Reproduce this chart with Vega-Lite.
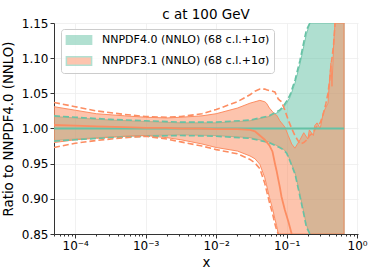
{
  "$schema": "https://vega.github.io/schema/vega-lite/v6.json",
  "width": 304,
  "height": 211,
  "autosize": {"type": "none"},
  "padding": {"left": 54, "top": 23, "right": 16, "bottom": 41},
  "background": "white",
  "title": {"text": "c at 100 GeV", "fontSize": 13.5, "font": "DejaVu Sans", "fontWeight": "normal", "anchor": "middle", "frame": "group", "offset": 2, "dy": 20, "baseline": "bottom", "color": "black"},
  "config": {
    "view": {"stroke": null},
    "font": "DejaVu Sans",
    "axis": {"labelFont": "DejaVu Sans", "titleFont": "DejaVu Sans", "labelFontSize": 12, "titleFontSize": 13.3, "titleFontWeight": "normal", "labelColor": "black", "titleColor": "black", "domainColor": "#333333", "domainWidth": 1, "tickColor": "#333333", "gridColor": "#eeeeee", "gridWidth": 0.8},
    "axisY": {"tickCount": 7, "format": ".2f", "tickSize": 4, "labelPadding": 2, "titlePadding": 6}
  },
  "datasets": {
    "g": [
      {"pdf": "NNPDF4.0 (NNLO) (68 c.l.+1σ)", "x": 5e-5, "lo": 0.983, "hi": 1.017, "slo": 0.982, "shi": 1.018, "c": 1},
      {"pdf": "NNPDF4.0 (NNLO) (68 c.l.+1σ)", "x": 1e-4, "lo": 0.985, "hi": 1.015, "slo": 0.984, "shi": 1.016, "c": 1},
      {"pdf": "NNPDF4.0 (NNLO) (68 c.l.+1σ)", "x": 3.16e-4, "lo": 0.988, "hi": 1.012, "slo": 0.987, "shi": 1.013, "c": 1},
      {"pdf": "NNPDF4.0 (NNLO) (68 c.l.+1σ)", "x": 1e-3, "lo": 0.990, "hi": 1.010, "slo": 0.989, "shi": 1.011, "c": 1},
      {"pdf": "NNPDF4.0 (NNLO) (68 c.l.+1σ)", "x": 3.16e-3, "lo": 0.991, "hi": 1.008, "slo": 0.990, "shi": 1.009, "c": 1},
      {"pdf": "NNPDF4.0 (NNLO) (68 c.l.+1σ)", "x": 0.01, "lo": 0.990, "hi": 1.008, "slo": 0.989, "shi": 1.009, "c": 1},
      {"pdf": "NNPDF4.0 (NNLO) (68 c.l.+1σ)", "x": 0.0302, "lo": 0.987, "hi": 1.011, "slo": 0.986, "shi": 1.012, "c": 1},
      {"pdf": "NNPDF4.0 (NNLO) (68 c.l.+1σ)", "x": 0.0562, "lo": 0.981, "hi": 1.017, "slo": 0.980, "shi": 1.018, "c": 1},
      {"pdf": "NNPDF4.0 (NNLO) (68 c.l.+1σ)", "x": 0.0794, "lo": 0.974, "hi": 1.024, "slo": 0.973, "shi": 1.026, "c": 1},
      {"pdf": "NNPDF4.0 (NNLO) (68 c.l.+1σ)", "x": 0.0891, "lo": 0.971, "hi": 1.029, "slo": 0.970, "shi": 1.031, "c": 1},
      {"pdf": "NNPDF4.0 (NNLO) (68 c.l.+1σ)", "x": 0.1, "lo": 0.966, "hi": 1.036, "slo": 0.965, "shi": 1.039, "c": 1},
      {"pdf": "NNPDF4.0 (NNLO) (68 c.l.+1σ)", "x": 0.1122, "lo": 0.955, "hi": 1.045, "slo": 0.953, "shi": 1.048, "c": 1},
      {"pdf": "NNPDF4.0 (NNLO) (68 c.l.+1σ)", "x": 0.1318, "lo": 0.937, "hi": 1.065, "slo": 0.935, "shi": 1.069, "c": 1},
      {"pdf": "NNPDF4.0 (NNLO) (68 c.l.+1σ)", "x": 0.1549, "lo": 0.906, "hi": 1.092, "slo": 0.903, "shi": 1.097, "c": 1},
      {"pdf": "NNPDF4.0 (NNLO) (68 c.l.+1σ)", "x": 0.1778, "lo": 0.878, "hi": 1.120, "slo": 0.875, "shi": 1.126, "c": 1},
      {"pdf": "NNPDF4.0 (NNLO) (68 c.l.+1σ)", "x": 0.1905, "lo": 0.863, "hi": 1.134, "slo": 0.860, "shi": 1.140, "c": 1},
      {"pdf": "NNPDF4.0 (NNLO) (68 c.l.+1σ)", "x": 0.2138, "lo": 0.848, "hi": 1.150, "slo": 0.847, "shi": 1.151, "c": 1},
      {"pdf": "NNPDF4.0 (NNLO) (68 c.l.+1σ)", "x": 0.2512, "lo": 0.80, "hi": 1.185, "slo": null, "shi": null, "c": 1},
      {"pdf": "NNPDF4.0 (NNLO) (68 c.l.+1σ)", "x": 0.653, "lo": 0.5, "hi": 1.6, "slo": null, "shi": null, "c": 1}
    ],
    "o": [
      {"pdf": "NNPDF3.1 (NNLO) (68 c.l.+1σ)", "x": 5e-5, "hi": 1.031, "lo": 0.980, "shi": 1.037, "slo": 0.973, "c": 1.005},
      {"pdf": "NNPDF3.1 (NNLO) (68 c.l.+1σ)", "x": 1e-4, "hi": 1.026, "lo": 0.984, "shi": 1.031, "slo": 0.979, "c": 1.004},
      {"pdf": "NNPDF3.1 (NNLO) (68 c.l.+1σ)", "x": 2e-4, "hi": 1.021, "lo": 0.986, "shi": 1.025, "slo": 0.983, "c": 1.003},
      {"pdf": "NNPDF3.1 (NNLO) (68 c.l.+1σ)", "x": 5e-4, "hi": 1.018, "lo": 0.989, "shi": 1.020, "slo": 0.987, "c": 1.002},
      {"pdf": "NNPDF3.1 (NNLO) (68 c.l.+1σ)", "x": 1e-3, "hi": 1.016, "lo": 0.990, "shi": 1.017, "slo": 0.989, "c": 1.001},
      {"pdf": "NNPDF3.1 (NNLO) (68 c.l.+1σ)", "x": 2e-3, "hi": 1.015, "lo": 0.987, "shi": 1.016, "slo": 0.985, "c": 1.001},
      {"pdf": "NNPDF3.1 (NNLO) (68 c.l.+1σ)", "x": 3.16e-3, "hi": 1.016, "lo": 0.984, "shi": 1.017, "slo": 0.981, "c": 1.000},
      {"pdf": "NNPDF3.1 (NNLO) (68 c.l.+1σ)", "x": 6.3e-3, "hi": 1.018, "lo": 0.978, "shi": 1.021, "slo": 0.975, "c": 1.000},
      {"pdf": "NNPDF3.1 (NNLO) (68 c.l.+1σ)", "x": 0.01, "hi": 1.021, "lo": 0.973, "shi": 1.027, "slo": 0.970, "c": 0.999},
      {"pdf": "NNPDF3.1 (NNLO) (68 c.l.+1σ)", "x": 0.02, "hi": 1.029, "lo": 0.968, "shi": 1.038, "slo": 0.964, "c": 0.999},
      {"pdf": "NNPDF3.1 (NNLO) (68 c.l.+1σ)", "x": 0.0302, "hi": 1.036, "lo": 0.961, "shi": 1.048, "slo": 0.956, "c": 0.998},
      {"pdf": "NNPDF3.1 (NNLO) (68 c.l.+1σ)", "x": 0.0355, "hi": 1.038, "lo": 0.957, "shi": 1.053, "slo": 0.951, "c": 0.996},
      {"pdf": "NNPDF3.1 (NNLO) (68 c.l.+1σ)", "x": 0.0417, "hi": 1.040, "lo": 0.949, "shi": 1.056, "slo": 0.943, "c": 0.990},
      {"pdf": "NNPDF3.1 (NNLO) (68 c.l.+1σ)", "x": 0.049, "hi": 1.038, "lo": 0.930, "shi": 1.056, "slo": 0.922, "c": 0.984},
      {"pdf": "NNPDF3.1 (NNLO) (68 c.l.+1σ)", "x": 0.0518, "hi": 1.036, "lo": 0.920, "shi": 1.055, "slo": 0.912, "c": 0.981},
      {"pdf": "NNPDF3.1 (NNLO) (68 c.l.+1σ)", "x": 0.057, "hi": 1.029, "lo": 0.902, "shi": 1.054, "slo": 0.895, "c": 0.976},
      {"pdf": "NNPDF3.1 (NNLO) (68 c.l.+1σ)", "x": 0.0631, "hi": 1.024, "lo": 0.886, "shi": 1.053, "slo": 0.879, "c": 0.967},
      {"pdf": "NNPDF3.1 (NNLO) (68 c.l.+1σ)", "x": 0.068, "hi": 1.020, "lo": 0.872, "shi": 1.052, "slo": 0.865, "c": 0.951},
      {"pdf": "NNPDF3.1 (NNLO) (68 c.l.+1σ)", "x": 0.072, "hi": 1.019, "lo": 0.862, "shi": 1.047, "slo": 0.856, "c": 0.940},
      {"pdf": "NNPDF3.1 (NNLO) (68 c.l.+1σ)", "x": 0.076, "hi": 1.015, "lo": 0.850, "shi": 1.042, "slo": 0.849, "c": 0.928},
      {"pdf": "NNPDF3.1 (NNLO) (68 c.l.+1σ)", "x": 0.080, "hi": 1.011, "lo": 0.838, "shi": 1.040, "slo": null, "c": 0.917},
      {"pdf": "NNPDF3.1 (NNLO) (68 c.l.+1σ)", "x": 0.0846, "hi": 1.008, "lo": 0.820, "shi": 1.038, "slo": null, "c": 0.903},
      {"pdf": "NNPDF3.1 (NNLO) (68 c.l.+1σ)", "x": 0.0944, "hi": 1.002, "lo": 0.780, "shi": 1.026, "slo": null, "c": 0.884},
      {"pdf": "NNPDF3.1 (NNLO) (68 c.l.+1σ)", "x": 0.1055, "hi": 0.990, "lo": 0.740, "shi": 1.012, "slo": null, "c": 0.868},
      {"pdf": "NNPDF3.1 (NNLO) (68 c.l.+1σ)", "x": 0.118, "hi": 0.978, "lo": 0.700, "shi": 1.000, "slo": null, "c": 0.850},
      {"pdf": "NNPDF3.1 (NNLO) (68 c.l.+1σ)", "x": 0.131, "hi": 0.972, "lo": 0.6, "shi": 0.990, "slo": null, "c": null},
      {"pdf": "NNPDF3.1 (NNLO) (68 c.l.+1σ)", "x": 0.155, "hi": 0.984, "lo": 0.6, "shi": 0.978, "slo": null, "c": null},
      {"pdf": "NNPDF3.1 (NNLO) (68 c.l.+1σ)", "x": 0.175, "hi": 0.994, "lo": 0.6, "shi": 0.980, "slo": null, "c": null},
      {"pdf": "NNPDF3.1 (NNLO) (68 c.l.+1σ)", "x": 0.2, "hi": 0.985, "lo": 0.6, "shi": 0.985, "slo": null, "c": null},
      {"pdf": "NNPDF3.1 (NNLO) (68 c.l.+1σ)", "x": 0.21, "hi": 0.998, "lo": 0.6, "shi": 0.990, "slo": null, "c": null},
      {"pdf": "NNPDF3.1 (NNLO) (68 c.l.+1σ)", "x": 0.24, "hi": 0.990, "lo": 0.6, "shi": 0.994, "slo": null, "c": null},
      {"pdf": "NNPDF3.1 (NNLO) (68 c.l.+1σ)", "x": 0.25, "hi": 1.004, "lo": 0.6, "shi": 0.998, "slo": null, "c": null},
      {"pdf": "NNPDF3.1 (NNLO) (68 c.l.+1σ)", "x": 0.27, "hi": 1.008, "lo": 0.6, "shi": 1.004, "slo": null, "c": null},
      {"pdf": "NNPDF3.1 (NNLO) (68 c.l.+1σ)", "x": 0.3, "hi": 1.000, "lo": 0.6, "shi": 1.008, "slo": null, "c": null},
      {"pdf": "NNPDF3.1 (NNLO) (68 c.l.+1σ)", "x": 0.33, "hi": 1.022, "lo": 0.6, "shi": 1.020, "slo": null, "c": null},
      {"pdf": "NNPDF3.1 (NNLO) (68 c.l.+1σ)", "x": 0.36, "hi": 1.030, "lo": 0.6, "shi": 1.035, "slo": null, "c": null},
      {"pdf": "NNPDF3.1 (NNLO) (68 c.l.+1σ)", "x": 0.386, "hi": 1.036, "lo": 0.6, "shi": 1.050, "slo": null, "c": null},
      {"pdf": "NNPDF3.1 (NNLO) (68 c.l.+1σ)", "x": 0.41, "hi": 1.074, "lo": 0.6, "shi": 1.070, "slo": null, "c": null},
      {"pdf": "NNPDF3.1 (NNLO) (68 c.l.+1σ)", "x": 0.426, "hi": 1.093, "lo": 0.6, "shi": 1.090, "slo": null, "c": null},
      {"pdf": "NNPDF3.1 (NNLO) (68 c.l.+1σ)", "x": 0.44, "hi": 1.060, "lo": 0.6, "shi": 1.100, "slo": null, "c": null},
      {"pdf": "NNPDF3.1 (NNLO) (68 c.l.+1σ)", "x": 0.465, "hi": 1.120, "lo": 0.6, "shi": 1.120, "slo": null, "c": null},
      {"pdf": "NNPDF3.1 (NNLO) (68 c.l.+1σ)", "x": 0.486, "hi": 1.3, "lo": 0.6, "shi": 1.15, "slo": null, "c": null},
      {"pdf": "NNPDF3.1 (NNLO) (68 c.l.+1σ)", "x": 0.653, "hi": 1.3, "lo": 0.6, "shi": null, "slo": null, "c": null}
    ]
  },
  "encoding": {
    "x": {
      "field": "x", "type": "quantitative",
      "scale": {"type": "log", "domain": [5e-5, 1.03], "nice": false},
      "axis": {
        "title": "x",
        "values": [5e-5, 6e-5, 7e-5, 8e-5, 9e-5, 1e-4, 2e-4, 3e-4, 4e-4, 5e-4, 6e-4, 7e-4, 8e-4, 9e-4, 1e-3, 2e-3, 3e-3, 4e-3, 5e-3, 6e-3, 7e-3, 8e-3, 9e-3, 0.01, 0.02, 0.03, 0.04, 0.05, 0.06, 0.07, 0.08, 0.09, 0.1, 0.2, 0.3, 0.4, 0.5, 0.6, 0.7, 0.8, 0.9, 1],
        "labelExpr": "abs(log(datum.value)/LN10 - round(log(datum.value)/LN10)) < 0.001 ? '10' + ['⁻⁴','⁻³','⁻²','⁻¹','⁰'][round(log(datum.value)/LN10) + 4] : ''",
        "labelOverlap": false,
        "labelFlush": false,
        "labelPadding": 2,
        "titlePadding": 4,
        "tickSize": {"condition": {"test": "abs(log(datum.value)/LN10 - round(log(datum.value)/LN10)) < 0.001", "value": 4}, "value": 2},
        "gridOpacity": {"condition": {"test": "abs(log(datum.value)/LN10 - round(log(datum.value)/LN10)) < 0.001", "value": 1}, "value": 0}
      }
    }
  },
  "layer": [
    {
      "data": {"name": "g"},
      "mark": {"type": "area", "fillOpacity": 0.52, "stroke": "#66c2a5", "strokeWidth": 0.8, "clip": true},
      "encoding": {
        "y": {"field": "lo", "type": "quantitative", "scale": {"domain": [0.85, 1.15], "nice": false, "zero": false, "clamp": true}, "title": "Ratio to NNPDF4.0 (NNLO)"},
        "y2": {"field": "hi"},
        "fill": {
          "field": "pdf", "type": "nominal",
          "scale": {"domain": ["NNPDF4.0 (NNLO) (68 c.l.+1σ)", "NNPDF3.1 (NNLO) (68 c.l.+1σ)"], "range": ["#66c2a5", "#fc8d62"]},
          "legend": {
            "title": null, "orient": "none", "legendX": 7, "legendY": 6,
            "symbolType": "M-2.1,-0.72H2.1V0.72H-2.1Z", "symbolSize": 144, "symbolOffset": 7,
            "symbolOpacity": 0.5,
            "labelFontSize": 11, "labelFont": "DejaVu Sans", "labelColor": "black", "labelOffset": 16, "labelLimit": 0,
            "rowPadding": 5, "padding": 4,
            "fillColor": "rgba(255,255,255,0.8)", "strokeColor": "#cccccc", "cornerRadius": 3
          }
        }
      }
    },
    {
      "data": {"name": "o"},
      "mark": {"type": "area", "fillOpacity": 0.52, "stroke": "#fc8d62", "strokeWidth": 1, "clip": true},
      "encoding": {
        "y": {"field": "lo", "type": "quantitative", "title": "Ratio to NNPDF4.0 (NNLO)"},
        "y2": {"field": "hi"},
        "fill": {"field": "pdf", "type": "nominal"}
      }
    },
    {
      "data": {"name": "g"},
      "mark": {"type": "line", "color": "#66c2a5", "strokeWidth": 1.6, "strokeDash": [6, 3], "clip": true},
      "encoding": {"y": {"field": "shi", "type": "quantitative", "title": "Ratio to NNPDF4.0 (NNLO)"}}
    },
    {
      "data": {"name": "g"},
      "mark": {"type": "line", "color": "#66c2a5", "strokeWidth": 1.6, "strokeDash": [6, 3], "clip": true},
      "encoding": {"y": {"field": "slo", "type": "quantitative", "title": "Ratio to NNPDF4.0 (NNLO)"}}
    },
    {
      "data": {"name": "o"},
      "mark": {"type": "line", "color": "#fc8d62", "strokeWidth": 1.6, "strokeDash": [6, 3], "clip": true},
      "encoding": {"y": {"field": "shi", "type": "quantitative", "title": "Ratio to NNPDF4.0 (NNLO)"}}
    },
    {
      "data": {"name": "o"},
      "mark": {"type": "line", "color": "#fc8d62", "strokeWidth": 1.6, "strokeDash": [6, 3], "clip": true},
      "encoding": {"y": {"field": "slo", "type": "quantitative", "title": "Ratio to NNPDF4.0 (NNLO)"}}
    },
    {
      "data": {"name": "g"},
      "mark": {"type": "line", "color": "#66c2a5", "strokeWidth": 1.8, "clip": true},
      "encoding": {"y": {"field": "c", "type": "quantitative", "title": "Ratio to NNPDF4.0 (NNLO)"}}
    },
    {
      "data": {"name": "o"},
      "mark": {"type": "line", "color": "#fc8d62", "strokeWidth": 1.8, "clip": true},
      "encoding": {"y": {"field": "c", "type": "quantitative", "title": "Ratio to NNPDF4.0 (NNLO)"}}
    }
  ]
}
